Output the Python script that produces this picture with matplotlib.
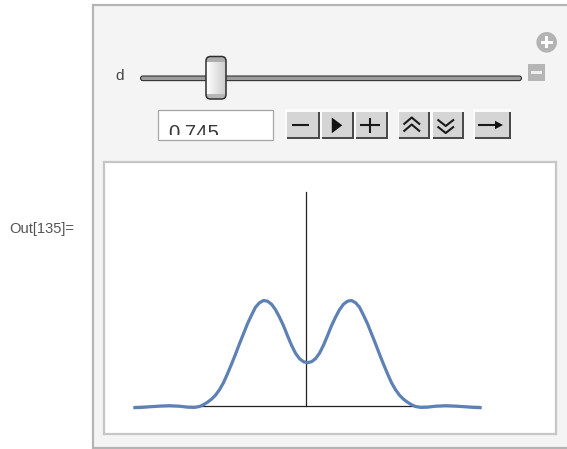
import matplotlib
matplotlib.use("Agg")
import matplotlib.pyplot as plt
import numpy as np
from matplotlib.patches import Rectangle, FancyBboxPatch, Circle, Polygon

# ---------------- data ----------------
x_left = [-3.484, -3.32, -3.16, -2.96, -2.76, -2.56, -2.40, -2.26, -2.16, -2.08,
          -2.00, -1.92, -1.84, -1.76, -1.68, -1.60, -1.52, -1.44, -1.36, -1.28,
          -1.20, -1.12, -1.04, -0.96, -0.88, -0.80, -0.72, -0.64, -0.56, -0.48,
          -0.40, -0.32, -0.24, -0.16, -0.08, 0.0]
y_left = [-0.020, -0.017, -0.011, -0.004, 0.0, -0.005, -0.015, -0.017, -0.008, 0.010,
          0.035, 0.065, 0.105, 0.160, 0.230, 0.320, 0.415, 0.515, 0.620, 0.720,
          0.820, 0.905, 0.985, 1.030, 1.052, 1.045, 1.015, 0.960, 0.885, 0.800,
          0.700, 0.605, 0.525, 0.470, 0.440, 0.430]
x_right = [0.08, 0.16, 0.24, 0.32, 0.40, 0.48, 0.56, 0.64, 0.72, 0.80,
           0.88, 0.96, 1.04, 1.12, 1.20, 1.28, 1.36, 1.44, 1.52, 1.60,
           1.68, 1.76, 1.84, 1.92, 2.00, 2.08, 2.16, 2.26, 2.40, 2.56,
           2.76, 2.96, 3.16, 3.32, 3.484]
y_right = [0.440, 0.470, 0.525, 0.605, 0.700, 0.800, 0.885, 0.960, 1.015, 1.045,
           1.052, 1.030, 0.985, 0.905, 0.820, 0.720, 0.620, 0.515, 0.415, 0.320,
           0.230, 0.160, 0.105, 0.065, 0.035, 0.010, -0.008, -0.017, -0.015, -0.005,
           0.0, -0.004, -0.011, -0.017, -0.020]
x_vals = x_left + x_right
y_vals = y_left + y_right

slider_label = "d"
slider_value = "0.745"
out_label = "Out[135]="

# ---------------- figure ----------------
W, H = 567, 449
fig = plt.figure(figsize=(W / 100, H / 100), dpi=100)
fig.patch.set_facecolor("white")

ui = fig.add_axes([0, 0, 1, 1])
ui.set_xlim(0, W)
ui.set_ylim(H, 0)
ui.axis("off")

FONT = "Liberation Sans"

# panel
ui.add_patch(Rectangle((92.5, 4.5), 500, 443, facecolor="#f4f4f4",
                       edgecolor="#b4b4b4", lw=1.6, zorder=1))

ui.text(9.3, 232.7, out_label, fontsize=10.6, family=FONT, color="#555555",
        va="baseline", ha="left")

# slider
ui.text(115, 80, slider_label, fontsize=11, family=FONT, color="#444444",
        va="baseline", ha="left", zorder=3)
ui.add_patch(FancyBboxPatch((140.5, 76), 381, 4.6,
                            boxstyle="round,pad=0,rounding_size=2.3",
                            facecolor="#9c9c9c", edgecolor="#333333", lw=0.8, zorder=3))

# thumb with gradient
tx0, tx1, ty0, ty1 = 206, 226, 56.5, 99
thumb = FancyBboxPatch((tx0, ty0), tx1 - tx0, ty1 - ty0,
                       boxstyle="round,pad=0,rounding_size=4.5",
                       facecolor="none", edgecolor="#2e2e2e", lw=1.1, zorder=5)
nh, nw = 43, 20
img = np.ones((nh, nw, 3))
hgrad = np.linspace(1.0, 0.80, nw)
for r in range(nh):
    img[r, :, :] = hgrad[:, None]
img[:6, :, :] = 0.68
img[-5:, :, :] = 0.72
im = ui.imshow(img, extent=(tx0, tx1, ty1, ty0), zorder=4, aspect="auto",
               interpolation="bilinear")
clip = FancyBboxPatch((tx0, ty0), tx1 - tx0, ty1 - ty0,
                      boxstyle="round,pad=0,rounding_size=4.5",
                      facecolor="none", edgecolor="none", transform=ui.transData)
ui.add_patch(clip)
im.set_clip_path(clip)
ui.add_patch(thumb)
ui.set_xlim(0, W)
ui.set_ylim(H, 0)

# plus circle and minus square
ui.add_patch(Circle((546.7, 42.3), 10.3, facecolor="#b3b3b3", edgecolor="none", zorder=3))
ui.add_patch(Rectangle((540.7, 40.8), 12, 3.2, facecolor="white", edgecolor="none", zorder=4))
ui.add_patch(Rectangle((545.1, 36.3), 3.2, 12, facecolor="white", edgecolor="none", zorder=4))
ui.add_patch(Rectangle((528, 63.5), 17, 17.5, facecolor="#b5b5b5", edgecolor="none", zorder=3))
ui.add_patch(Rectangle((531, 70.8), 11, 3, facecolor="#eeeeee", edgecolor="none", zorder=4))

# input field
ui.add_patch(Rectangle((157.5, 109.5), 115, 30, facecolor="white",
                       edgecolor="#a6a6a6", lw=0.9, zorder=3))
t = ui.text(168.5, 138.8, slider_value, fontsize=14.6, family=FONT, color="#3a3a3a",
            va="baseline", ha="left", zorder=4, clip_on=True)
tclip = Rectangle((158, 110), 114, 24.8, transform=ui.transData, facecolor="none",
                  edgecolor="none")
ui.add_patch(tclip)
t.set_clip_path(tclip)


def group_bg(x0, x1):
    ui.add_patch(Rectangle((x0, 109.3), x1 - x0, 30, facecolor="#fbfbfb",
                           edgecolor="none", zorder=3))


def button(x0, x1, y0=111.5, y1=138.5):
    ui.add_patch(Rectangle((x0, y0), x1 - x0, y1 - y0, facecolor="#d5d5d5",
                           edgecolor="none", zorder=4))
    ui.add_patch(Rectangle((x0, y1 - 2), x1 - x0, 2, facecolor="#4a4a4a",
                           edgecolor="none", zorder=5))
    ui.add_patch(Rectangle((x1 - 2, y0), 2, y1 - y0, facecolor="#4a4a4a",
                           edgecolor="none", zorder=5))


group_bg(285, 389)
button(287.3, 319.5)
button(321.5, 354)
button(356, 388)
group_bg(397.5, 463.5)
button(399.3, 430)
button(432.5, 463.5)
group_bg(472.5, 511)
button(474.5, 511)

gk = dict(color="#1a1a1a", lw=1.5, solid_capstyle="butt", zorder=6)
# minus
ui.plot([291.5, 309], [124.8, 124.8], **gk)
# play
ui.add_patch(Polygon([(331.8, 117.5), (331.8, 133.2), (342.3, 125.3)], closed=True,
                     facecolor="#111111", edgecolor="none", zorder=6))
# plus
ui.plot([360, 380], [125.3, 125.3], **gk)
ui.plot([370, 370], [117.5, 133.3], **gk)
# double up
ui.plot([403.5, 411.7, 420], [124.5, 117.5, 124.5], **gk)
ui.plot([403.5, 411.7, 420], [131.5, 124.5, 131.5], **gk)
# double down
ui.plot([437.5, 445.7, 454], [119.5, 126, 119.5], **gk)
ui.plot([437.5, 445.7, 454], [126.5, 133, 126.5], **gk)
# right arrow
ui.plot([478.3, 497], [125, 125], **gk)
ui.add_patch(Polygon([(495, 120.8), (503, 125), (495, 129.2)], closed=True,
                     facecolor="#111111", edgecolor="none", zorder=6))

# ---------------- plot ----------------
L, R, T, B = 104, 556, 162, 434
ax = fig.add_axes([L / W, 1 - B / H, (R - L) / W, (B - T) / H])
ax.set_facecolor("white")
ax.set_xlim(-4.07, 4.97)
ax.set_ylim(-0.283, 2.437)
ax.set_xticks([])
ax.set_yticks([])
for s in ax.spines.values():
    s.set_color("#c6c6c6")
    s.set_linewidth(1.6)

ax.plot([-3.45, 3.43], [0, 0], color="#222222", lw=0.9, zorder=2)
ax.plot([-0.036, -0.036], [0, 2.137], color="#222222", lw=0.9, zorder=2)
ax.plot(x_vals, y_vals, color="#5e81b5", lw=2.3, zorder=3,
        solid_joinstyle="round", solid_capstyle="butt")

fig.savefig("out.png", dpi=100, facecolor="white")
